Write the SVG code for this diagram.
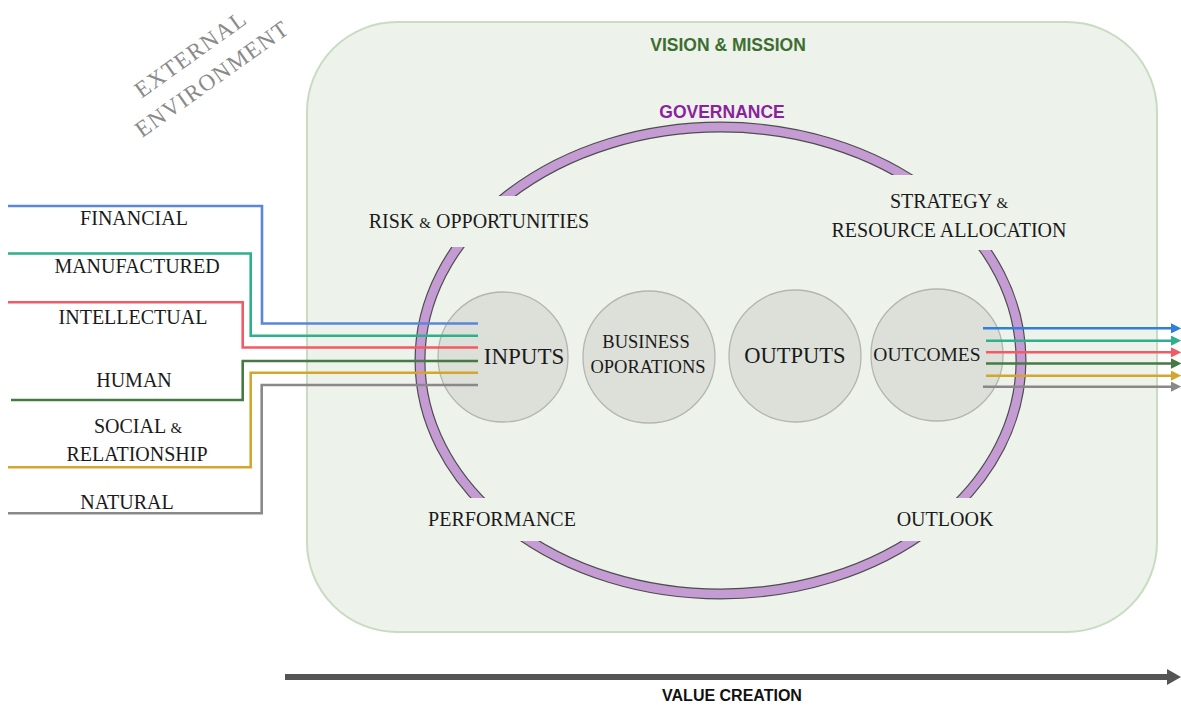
<svg xmlns="http://www.w3.org/2000/svg" width="1181" height="706" viewBox="0 0 1181 706">
  <style>
    .serif { font-family: "Liberation Serif", "DejaVu Serif", serif; fill: #1a1a1a; }
    .lbl { font-size: 20px; text-anchor: middle; }
    .amp { font-size: 15px; }
    .head { font-family: "Liberation Sans", Arial, sans-serif; font-weight: bold; text-anchor: middle; }
    .stage { fill: #d9dcd6; fill-opacity: 0.85; stroke: #b3b6b0; stroke-width: 1.3; }
    .cap { fill: none; stroke-width: 2.6; stroke-linejoin: miter; }
    .blue { stroke: #5b87d8; }
    .teal { stroke: #2fb08c; }
    .red { stroke: #f45a66; }
    .green { stroke: #457a45; }
    .gold { stroke: #d3a72e; }
    .grey { stroke: #8a8888; }
  </style>
  <defs>
    <marker id="ah-blue" viewBox="0 0 10 10" refX="2" refY="5" markerWidth="4" markerHeight="4" orient="auto" markerUnits="strokeWidth"><path d="M0,0 L10,5 L0,10 z" fill="#2f80da"/></marker>
    <marker id="ah-teal" viewBox="0 0 10 10" refX="2" refY="5" markerWidth="4" markerHeight="4" orient="auto" markerUnits="strokeWidth"><path d="M0,0 L10,5 L0,10 z" fill="#2fb08c"/></marker>
    <marker id="ah-red" viewBox="0 0 10 10" refX="2" refY="5" markerWidth="4" markerHeight="4" orient="auto" markerUnits="strokeWidth"><path d="M0,0 L10,5 L0,10 z" fill="#f45a66"/></marker>
    <marker id="ah-green" viewBox="0 0 10 10" refX="2" refY="5" markerWidth="4" markerHeight="4" orient="auto" markerUnits="strokeWidth"><path d="M0,0 L10,5 L0,10 z" fill="#457a45"/></marker>
    <marker id="ah-gold" viewBox="0 0 10 10" refX="2" refY="5" markerWidth="4" markerHeight="4" orient="auto" markerUnits="strokeWidth"><path d="M0,0 L10,5 L0,10 z" fill="#d3a72e"/></marker>
    <marker id="ah-grey" viewBox="0 0 10 10" refX="2" refY="5" markerWidth="4" markerHeight="4" orient="auto" markerUnits="strokeWidth"><path d="M0,0 L10,5 L0,10 z" fill="#8a8888"/></marker>
    <!-- horizontal gaps in the governance ring where its labels sit -->
    <mask id="ringGaps" maskUnits="userSpaceOnUse" x="0" y="0" width="1181" height="706">
      <rect width="1181" height="706" fill="#fff"/>
      <rect x="380" y="196" width="340" height="51" fill="#000"/>
      <rect x="720" y="175" width="340" height="75" fill="#000"/>
      <rect x="380" y="498" width="340" height="43" fill="#000"/>
      <rect x="720" y="498" width="340" height="43" fill="#000"/>
    </mask>
  </defs>

  <rect width="1181" height="706" fill="#ffffff"/>

  <!-- external environment heading -->
  <g id="external-environment">
    <text class="serif" transform="translate(202.5,65.5) rotate(-35.5)" text-anchor="middle" font-size="23" letter-spacing="1.3" style="fill:#8a8a8a">
      <tspan x="0" y="-8.5">EXTERNAL</tspan>
      <tspan x="0" y="24">ENVIRONMENT</tspan>
    </text>
  </g>

  <!-- vision & mission container -->
  <g id="vision-mission">
    <rect x="307" y="22" width="850" height="610" rx="90" ry="90" fill="#edf2eb" stroke="#c7dcc1" stroke-width="2"/>
    <text class="head" x="728" y="51" font-size="17.5" style="fill:#3d6e30">VISION &amp; MISSION</text>
  </g>

  <!-- governance ring -->
  <g id="governance">
    <g mask="url(#ringGaps)">
      <ellipse cx="720.5" cy="360.5" rx="300.5" ry="233.5" fill="none" stroke="#4e4e4e" stroke-width="11"/>
      <ellipse cx="720.5" cy="360.5" rx="300.5" ry="233.5" fill="none" stroke="#c49bd3" stroke-width="8.6"/>
    </g>
    <text class="head" x="722" y="118" font-size="17.5" style="fill:#8b229d">GOVERNANCE</text>
  </g>

  <!-- value chain stages -->
  <g id="inputs">
    <circle class="stage" cx="503" cy="357" r="65"/>
  </g>
  <g id="business-operations">
    <circle class="stage" cx="649" cy="357" r="66"/>
    <text class="serif" x="646" y="348" text-anchor="middle" font-size="18.5">BUSINESS</text>
    <text class="serif" x="648" y="373" text-anchor="middle" font-size="18.5">OPORATIONS</text>
  </g>
  <g id="outputs">
    <circle class="stage" cx="795" cy="356" r="66"/>
    <text class="serif" x="795" y="363" text-anchor="middle" font-size="22.5">OUTPUTS</text>
  </g>
  <g id="outcomes">
    <circle class="stage" cx="937" cy="355" r="66"/>
  </g>

  <!-- capital flows in and out -->
  <g id="connectors">
    <path class="cap blue" d="M8,206 H262 V323.5 H478"/>
    <path class="cap teal" d="M8,253.5 H250.7 V335.8 H478"/>
    <path class="cap red" d="M8,302.3 H242.7 V347.5 H478"/>
    <path class="cap green" d="M11,400 H242.7 V361 H478"/>
    <path class="cap gold" d="M8,467.3 H250.7 V372.8 H478"/>
    <path class="cap grey" d="M8,513.3 H261.7 V385 H478"/>

    <path class="cap" stroke="#2f80da" d="M983,328.3 H1173" marker-end="url(#ah-blue)"/>
    <path class="cap teal" d="M986,340.7 H1173" marker-end="url(#ah-teal)"/>
    <path class="cap red" d="M986,352.3 H1173" marker-end="url(#ah-red)"/>
    <path class="cap green" d="M986,363.5 H1173" marker-end="url(#ah-green)"/>
    <path class="cap gold" d="M986,375.7 H1173" marker-end="url(#ah-gold)"/>
    <path class="cap grey" d="M983,386.7 H1173" marker-end="url(#ah-grey)"/>
  </g>

  <!-- stage titles drawn above the flows -->
  <text class="serif" x="524" y="364" text-anchor="middle" font-size="23">INPUTS</text>
  <text class="serif" x="927" y="361" text-anchor="middle" font-size="19.5">OUTCOMES</text>

  <!-- capitals -->
  <g id="financial"><text class="serif lbl" x="134" y="225">FINANCIAL</text></g>
  <g id="manufactured"><text class="serif lbl" x="137" y="273">MANUFACTURED</text></g>
  <g id="intellectual"><text class="serif lbl" x="133" y="324">INTELLECTUAL</text></g>
  <g id="human"><text class="serif lbl" x="134" y="387">HUMAN</text></g>
  <g id="social-relationship">
    <text class="serif lbl" x="138" y="433">SOCIAL <tspan class="amp">&amp;</tspan></text>
    <text class="serif lbl" x="137" y="461">RELATIONSHIP</text>
  </g>
  <g id="natural"><text class="serif lbl" x="127" y="509">NATURAL</text></g>

  <!-- ring annotations -->
  <g id="risk-opportunities"><text class="serif lbl" x="479" y="228">RISK <tspan class="amp">&amp;</tspan> OPPORTUNITIES</text></g>
  <g id="strategy-resource-allocation">
    <text class="serif lbl" x="949" y="208">STRATEGY <tspan class="amp">&amp;</tspan></text>
    <text class="serif lbl" x="949" y="237" font-size="19.5">RESOURCE ALLOCATION</text>
  </g>
  <g id="performance"><text class="serif lbl" x="502" y="526">PERFORMANCE</text></g>
  <g id="outlook"><text class="serif lbl" x="945" y="526">OUTLOOK</text></g>

  <!-- value creation axis -->
  <g id="value-creation">
    <line x1="285" y1="677" x2="1170" y2="677" stroke="#555555" stroke-width="6"/>
    <polygon points="1167,669 1181,677 1167,685" fill="#555555"/>
    <text class="head" x="732" y="701" font-size="16" style="fill:#111">VALUE CREATION</text>
  </g>
</svg>
